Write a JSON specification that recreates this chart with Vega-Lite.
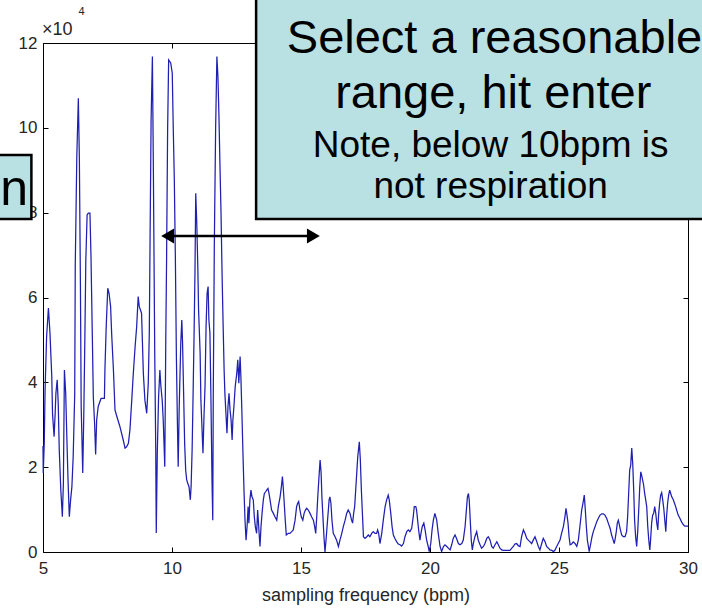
{
  "$schema": "https://vega.github.io/schema/vega-lite/v6.json",
  "autosize": {"type": "none"},
  "padding": {"left": 43, "top": 43, "right": 14, "bottom": 59},
  "width": 645,
  "height": 509,
  "background": "white",
  "config": {
    "font": "Liberation Sans",
    "view": {"stroke": "#000000", "strokeWidth": 1},
    "axis": {
      "grid": false,
      "domain": false,
      "tickColor": "#000000",
      "tickSize": -5,
      "tickWidth": 1,
      "labelFlush": false,
      "labelFontSize": 17,
      "labelColor": "#262626",
      "labelFont": "Liberation Sans",
      "titleFont": "Liberation Sans",
      "titleFontSize": 18,
      "titleFontWeight": "normal",
      "titleColor": "#262626"
    }
  },
  "datasets": {
    "spectrum": [
      {"f":5.00,"p":25000},{"f":5.01,"p":18600},{"f":5.05,"p":26000},{"f":5.08,"p":38200},{"f":5.14,"p":50800},{"f":5.21,"p":57500},{"f":5.27,"p":51600},{"f":5.34,"p":41400},{"f":5.37,"p":32500},{"f":5.43,"p":27200},{"f":5.47,"p":32500},{"f":5.50,"p":37400},{"f":5.55,"p":40600},{"f":5.59,"p":35100},{"f":5.63,"p":24100},{"f":5.69,"p":14600},{"f":5.75,"p":8300},{"f":5.79,"p":16200},{"f":5.83,"p":42900},{"f":5.88,"p":37400},{"f":5.92,"p":28000},{"f":5.97,"p":17000},{"f":6.02,"p":8300},{"f":6.07,"p":12300},{"f":6.12,"p":15400},{"f":6.17,"p":22500},{"f":6.23,"p":37400},{"f":6.25,"p":67300},{"f":6.31,"p":93200},{"f":6.37,"p":107000},{"f":6.41,"p":92500},{"f":6.45,"p":63400},{"f":6.48,"p":34300},{"f":6.54,"p":18600},{"f":6.58,"p":32000},{"f":6.62,"p":49200},{"f":6.66,"p":68900},{"f":6.71,"p":79500},{"f":6.76,"p":79900},{"f":6.82,"p":79900},{"f":6.86,"p":69700},{"f":6.91,"p":51600},{"f":6.95,"p":36600},{"f":7.00,"p":30300},{"f":7.04,"p":23000},{"f":7.08,"p":31100},{"f":7.14,"p":34300},{"f":7.25,"p":36200},{"f":7.38,"p":36200},{"f":7.40,"p":42900},{"f":7.45,"p":53100},{"f":7.51,"p":62200},{"f":7.56,"p":61000},{"f":7.62,"p":57900},{"f":7.66,"p":51600},{"f":7.73,"p":42900},{"f":7.79,"p":33500},{"f":7.86,"p":32000},{"f":7.98,"p":29600},{"f":8.11,"p":26400},{"f":8.18,"p":24500},{"f":8.24,"p":24800},{"f":8.31,"p":25600},{"f":8.37,"p":28800},{"f":8.44,"p":35800},{"f":8.50,"p":42100},{"f":8.57,"p":48400},{"f":8.63,"p":53100},{"f":8.69,"p":60200},{"f":8.73,"p":57900},
      {"f":8.82,"p":56300},{"f":8.89,"p":42100},{"f":8.95,"p":35800},{"f":9.02,"p":32700},{"f":9.08,"p":39800},{"f":9.12,"p":51600},{"f":9.15,"p":73600},{"f":9.19,"p":101900},{"f":9.24,"p":116800},{"f":9.28,"p":88500},{"f":9.33,"p":47600},{"f":9.37,"p":24100},{"f":9.39,"p":4500},{"f":9.43,"p":23300},{"f":9.48,"p":36600},{"f":9.53,"p":42900},{"f":9.57,"p":39000},{"f":9.62,"p":35800},{"f":9.66,"p":31100},{"f":9.72,"p":20100},{"f":9.76,"p":50800},{"f":9.79,"p":68900},{"f":9.83,"p":99500},{"f":9.87,"p":116000},{"f":9.95,"p":115300},{"f":10.01,"p":112900},{"f":10.05,"p":99500},{"f":10.09,"p":87700},{"f":10.13,"p":69700},{"f":10.17,"p":46100},{"f":10.21,"p":30300},{"f":10.24,"p":20100},{"f":10.28,"p":34300},{"f":10.34,"p":49200},{"f":10.38,"p":54700},{"f":10.41,"p":49200},{"f":10.45,"p":37400},{"f":10.49,"p":25600},{"f":10.53,"p":19300},{"f":10.57,"p":17000},{"f":10.61,"p":16200},{"f":10.66,"p":15400},{"f":10.71,"p":12300},{"f":10.74,"p":15400},{"f":10.78,"p":24100},{"f":10.81,"p":34300},{"f":10.85,"p":49200},{"f":10.89,"p":65700},{"f":10.92,"p":84600},{"f":10.96,"p":77500},{"f":11.00,"p":67300},{"f":11.03,"p":57100},{"f":11.09,"p":46900},{"f":11.12,"p":35800},{"f":11.16,"p":29600},{"f":11.20,"p":23300},{"f":11.24,"p":32000},{"f":11.28,"p":39000},{"f":11.32,"p":53100},{"f":11.36,"p":61000},{"f":11.40,"p":62600},{"f":11.43,"p":54700},{"f":11.47,"p":51600},{"f":11.51,"p":35800},{"f":11.55,"p":17000},{"f":11.58,"p":7500},{"f":11.60,"p":37400},{"f":11.64,"p":72000},{"f":11.69,"p":99500},{"f":11.74,"p":116800},{"f":11.78,"p":112100},{"f":11.82,"p":102700},{"f":11.86,"p":90900},{"f":11.90,"p":79900},{"f":11.94,"p":65700},{"f":11.98,"p":53900},{"f":12.02,"p":42900},{"f":12.05,"p":37400},{"f":12.09,"p":32700},{"f":12.13,"p":28000},{"f":12.17,"p":34300},{"f":12.21,"p":37400},{"f":12.25,"p":33500},{"f":12.29,"p":31100},{"f":12.33,"p":26400},{"f":12.36,"p":31100},{"f":12.40,"p":34300},{"f":12.45,"p":39000},{"f":12.51,"p":42100},{"f":12.55,"p":45300},{"f":12.59,"p":39800},
      {"f":12.64,"p":46100},{"f":12.67,"p":41300},{"f":12.71,"p":32700},{"f":12.75,"p":23300},{"f":12.79,"p":14600},{"f":12.83,"p":7500},{"f":12.87,"p":2800},{"f":12.91,"p":6000},{"f":12.95,"p":10700},{"f":12.98,"p":6800},{"f":13.02,"p":12300},{"f":13.06,"p":14600},{"f":13.10,"p":13000},{"f":13.15,"p":12300},{"f":13.19,"p":8300},{"f":13.23,"p":6000},{"f":13.28,"p":4400},{"f":13.32,"p":9900},{"f":13.36,"p":6000},{"f":13.41,"p":1300},{"f":13.45,"p":6000},{"f":13.49,"p":9100},{"f":13.54,"p":12300},{"f":13.58,"p":13800},{"f":13.63,"p":14200},{"f":13.67,"p":14600},{"f":13.72,"p":15000},{"f":13.76,"p":13800},{"f":13.80,"p":12300},{"f":13.86,"p":9900},{"f":13.93,"p":9100},{"f":13.99,"p":8300},{"f":14.06,"p":7500},{"f":14.12,"p":10700},{"f":14.19,"p":13000},{"f":14.24,"p":15400},{"f":14.28,"p":17800},{"f":14.31,"p":15400},{"f":14.35,"p":11500},{"f":14.39,"p":7500},{"f":14.43,"p":4000},{"f":14.51,"p":4400},{"f":14.57,"p":4400},{"f":14.64,"p":4800},{"f":14.70,"p":5200},{"f":14.77,"p":7500},{"f":14.83,"p":10700},{"f":14.87,"p":11500},{"f":14.91,"p":11900},{"f":14.96,"p":9900},{"f":15.01,"p":8300},{"f":15.07,"p":7500},{"f":15.12,"p":9100},{"f":15.17,"p":9900},{"f":15.22,"p":10300},{"f":15.28,"p":9900},{"f":15.35,"p":9100},{"f":15.41,"p":8300},{"f":15.48,"p":7500},{"f":15.53,"p":6000},{"f":15.57,"p":4400},{"f":15.61,"p":8300},{"f":15.65,"p":13000},{"f":15.69,"p":17000},{"f":15.74,"p":21700},{"f":15.78,"p":18600},{"f":15.81,"p":13000},{"f":15.85,"p":8300},{"f":15.89,"p":3600},{"f":15.93,"p":0},{"f":15.97,"p":2800},{"f":16.01,"p":6000},{"f":16.05,"p":9100},{"f":16.09,"p":12300},{"f":16.12,"p":13000},{"f":16.16,"p":11500},{"f":16.20,"p":7500},{"f":16.25,"p":4400},{"f":16.32,"p":3600},{"f":16.38,"p":2800},{"f":16.45,"p":1300},{"f":16.51,"p":2800},{"f":16.58,"p":4400},{"f":16.64,"p":6000},{"f":16.71,"p":7500},{"f":16.77,"p":9100},{"f":16.83,"p":9900},{"f":16.90,"p":9100},{"f":16.96,"p":7500},{"f":17.00,"p":6800},{"f":17.04,"p":9100},{"f":17.08,"p":10700},{"f":17.12,"p":14600},{"f":17.16,"p":18600},{"f":17.20,"p":22500},{"f":17.24,"p":24800},{"f":17.26,"p":26000},{"f":17.30,"p":21700},{"f":17.34,"p":14600},{"f":17.38,"p":9100},{"f":17.42,"p":3600},{"f":17.48,"p":3200},{"f":17.55,"p":3600},{"f":17.61,"p":4000},{"f":17.67,"p":3600},{"f":17.74,"p":4400},{"f":17.80,"p":4800},{"f":17.87,"p":4400},{"f":17.93,"p":4400},{"f":17.97,"p":5200},{"f":18.01,"p":4400},
      {"f":18.06,"p":2000},{"f":18.13,"p":4400},{"f":18.19,"p":7500},{"f":18.26,"p":10700},{"f":18.32,"p":12300},{"f":18.38,"p":13400},{"f":18.42,"p":12300},{"f":18.48,"p":9100},{"f":18.53,"p":6000},{"f":18.58,"p":4000},{"f":18.64,"p":3200},{"f":18.71,"p":2400},{"f":18.77,"p":1900},{"f":18.84,"p":1700},{"f":18.90,"p":1400},{"f":18.97,"p":2000},{"f":19.03,"p":3600},{"f":19.10,"p":4800},{"f":19.16,"p":5200},{"f":19.22,"p":4800},{"f":19.29,"p":5600},{"f":19.35,"p":8300},{"f":19.39,"p":10700},{"f":19.45,"p":10700},{"f":19.48,"p":9900},{"f":19.52,"p":7500},{"f":19.56,"p":5200},{"f":19.61,"p":2800},{"f":19.65,"p":4400},{"f":19.70,"p":6000},{"f":19.76,"p":6800},{"f":19.81,"p":5200},{"f":19.87,"p":2800},{"f":19.93,"p":1300},{"f":19.97,"p":100},{"f":20.03,"p":2000},{"f":20.08,"p":5200},{"f":20.13,"p":7500},{"f":20.19,"p":9100},{"f":20.26,"p":7500},{"f":20.32,"p":4400},{"f":20.39,"p":1300},{"f":20.45,"p":100},{"f":20.52,"p":1300},{"f":20.58,"p":1700},{"f":20.65,"p":1300},{"f":20.71,"p":900},{"f":20.78,"p":500},{"f":20.84,"p":1700},{"f":20.90,"p":3200},{"f":20.97,"p":4000},{"f":21.03,"p":3200},{"f":21.10,"p":2000},{"f":21.16,"p":1700},{"f":21.23,"p":2000},{"f":21.29,"p":2800},{"f":21.36,"p":6000},{"f":21.40,"p":9100},{"f":21.45,"p":13000},{"f":21.49,"p":13800},{"f":21.52,"p":12300},{"f":21.56,"p":7500},{"f":21.60,"p":2800},{"f":21.64,"p":500},{"f":21.68,"p":2000},{"f":21.74,"p":3600},{"f":21.81,"p":4800},{"f":21.87,"p":2800},{"f":21.94,"p":1700},{"f":22.00,"p":900},{"f":22.07,"p":1300},{"f":22.13,"p":2000},{"f":22.20,"p":3200},{"f":22.26,"p":3600},{"f":22.33,"p":2800},{"f":22.39,"p":1300},{"f":22.45,"p":900},{"f":22.52,"p":1700},{"f":22.59,"p":2400},{"f":22.65,"p":1700},{"f":22.71,"p":900},{"f":22.78,"p":500},{"f":22.84,"p":400},{"f":22.97,"p":400},{"f":23.10,"p":400},{"f":23.17,"p":900},{"f":23.23,"p":1300},{"f":23.29,"p":1900},{"f":23.36,"p":2000},{"f":23.42,"p":1500},
      {"f":23.49,"p":1300},{"f":23.55,"p":3600},{"f":23.62,"p":5200},{"f":23.68,"p":4400},{"f":23.75,"p":3200},{"f":23.81,"p":2800},{"f":23.88,"p":2400},{"f":23.94,"p":2000},{"f":24.00,"p":2800},{"f":24.07,"p":3600},{"f":24.14,"p":2400},{"f":24.20,"p":1300},{"f":24.26,"p":500},{"f":24.33,"p":2000},{"f":24.39,"p":3200},{"f":24.46,"p":2400},{"f":24.52,"p":1300},{"f":24.59,"p":900},{"f":24.65,"p":500},{"f":24.72,"p":400},{"f":24.78,"p":100},{"f":24.84,"p":400},{"f":24.91,"p":1300},{"f":24.97,"p":2000},{"f":25.04,"p":2800},{"f":25.10,"p":4400},{"f":25.17,"p":6000},{"f":25.23,"p":8300},{"f":25.27,"p":10300},{"f":25.31,"p":8700},{"f":25.35,"p":6800},{"f":25.39,"p":3600},{"f":25.43,"p":1700},{"f":25.49,"p":1900},{"f":25.55,"p":2400},{"f":25.62,"p":2000},{"f":25.69,"p":1300},{"f":25.75,"p":2800},{"f":25.81,"p":6000},{"f":25.88,"p":9900},{"f":25.94,"p":11900},{"f":25.98,"p":13400},{"f":26.02,"p":9900},{"f":26.06,"p":6000},{"f":26.10,"p":2800},{"f":26.14,"p":1300},{"f":26.17,"p":100},{"f":26.23,"p":2000},{"f":26.28,"p":3600},{"f":26.33,"p":4800},{"f":26.40,"p":6000},{"f":26.46,"p":7100},{"f":26.52,"p":7900},{"f":26.59,"p":8700},{"f":26.66,"p":9000},{"f":26.72,"p":9000},{"f":26.78,"p":8700},{"f":26.85,"p":7900},{"f":26.91,"p":6800},{"f":26.98,"p":5600},{"f":27.04,"p":4000},{"f":27.10,"p":2800},{"f":27.14,"p":2000},{"f":27.18,"p":3200},{"f":27.22,"p":4800},{"f":27.26,"p":6800},{"f":27.30,"p":7500},{"f":27.34,"p":6400},{"f":27.38,"p":5200},{"f":27.43,"p":4000},{"f":27.49,"p":3600},{"f":27.56,"p":3600},{"f":27.62,"p":4800},{"f":27.66,"p":8300},{"f":27.70,"p":13800},{"f":27.74,"p":19300},{"f":27.78,"p":20500},{"f":27.82,"p":24500},{"f":27.86,"p":20500},{"f":27.90,"p":13800},{"f":27.93,"p":7500},{"f":27.97,"p":3600},{"f":28.01,"p":1300},{"f":28.05,"p":4800},{"f":28.09,"p":9900},{"f":28.13,"p":15400},{"f":28.17,"p":18900},{"f":28.20,"p":18200},{"f":28.24,"p":17000},{"f":28.28,"p":15800},{"f":28.32,"p":13800},{"f":28.36,"p":12300},{"f":28.40,"p":10700},{"f":28.44,"p":6000},{"f":28.48,"p":2800},{"f":28.52,"p":500},{"f":28.55,"p":2800},{"f":28.59,"p":6800},{"f":28.63,"p":8700},{"f":28.67,"p":9100},{"f":28.71,"p":10700},{"f":28.75,"p":9100},{"f":28.79,"p":6800},{"f":28.83,"p":5200},{"f":28.86,"p":8700},{"f":28.90,"p":11500},{"f":28.94,"p":13400},{"f":28.98,"p":14000},{"f":29.02,"p":12300},{"f":29.06,"p":10300},{"f":29.10,"p":7500},{"f":29.14,"p":4800},{"f":29.17,"p":8300},{"f":29.21,"p":11500},{"f":29.25,"p":13400},{"f":29.29,"p":14600},{"f":29.33,"p":13800},{"f":29.37,"p":13000},{"f":29.43,"p":12300},{"f":29.50,"p":11100},{"f":29.56,"p":9900},{"f":29.62,"p":8700},{"f":29.69,"p":7900},{"f":29.75,"p":7100},{"f":29.82,"p":6400},{"f":29.88,"p":6100},{"f":30.00,"p":6100}
    ]
  },
  "layer": [
    {
      "data": {"name": "spectrum"},
      "mark": {"type": "line", "color": "#1f1fb2", "strokeWidth": 1.25},
      "encoding": {
        "x": {
          "field": "f", "type": "quantitative",
          "scale": {"domain": [5, 30], "nice": false, "zero": false},
          "axis": {"values": [5, 10, 15, 20, 25, 30], "labelPadding": 13, "title": "sampling frequency (bpm)", "titlePadding": 10}
        },
        "y": {
          "field": "p", "type": "quantitative",
          "scale": {"domain": [0, 120000], "nice": false},
          "axis": {"values": [0, 20000, 40000, 60000, 80000, 100000, 120000], "labelExpr": "datum.value / 10000", "labelPadding": 11, "title": null}
        }
      }
    },
    {
      "data": {"name": "spectrum"},
      "mark": {"type": "line", "opacity": 0},
      "encoding": {
        "x": {
          "field": "f", "type": "quantitative",
          "scale": {"domain": [5, 30], "nice": false, "zero": false},
          "axis": {"orient": "top", "values": [5, 10, 15, 20, 25, 30], "labels": false, "title": null}
        },
        "y": {
          "field": "p", "type": "quantitative",
          "scale": {"domain": [0, 120000], "nice": false},
          "axis": {"orient": "right", "values": [0, 20000, 40000, 60000, 80000, 100000, 120000], "labels": false, "title": null}
        }
      }
    },
    {
      "data": {"values": [
        {"f": 13.26, "f2": 31.5, "p": 140000, "p2": 78500},
        {"f": 3.0, "f2": 4.55, "p": 93600, "p2": 78500}
      ]},
      "mark": {"type": "rect", "fill": "#b9e0e3", "stroke": "#000000", "strokeWidth": 2.5, "clip": false},
      "encoding": {
        "x": {"field": "f", "type": "quantitative", "axis": null},
        "x2": {"field": "f2"},
        "y": {"field": "p", "type": "quantitative", "axis": null},
        "y2": {"field": "p2"}
      }
    },
    {
      "data": {"values": [
        {"f": 22.5, "p": 117700, "t": "Select a reasonable"},
        {"f": 22.45, "p": 104700, "t": "range, hit enter"}
      ]},
      "mark": {"type": "text", "fontSize": 47, "font": "Liberation Sans", "align": "center", "baseline": "alphabetic", "color": "#000000"},
      "encoding": {
        "x": {"field": "f", "type": "quantitative", "axis": null},
        "y": {"field": "p", "type": "quantitative", "axis": null},
        "text": {"field": "t"}
      }
    },
    {
      "data": {"values": [
        {"f": 22.35, "p": 93200, "t": "Note, below 10bpm is"},
        {"f": 22.35, "p": 83500, "t": "not respiration"}
      ]},
      "mark": {"type": "text", "fontSize": 37, "font": "Liberation Sans", "align": "center", "baseline": "alphabetic", "color": "#000000"},
      "encoding": {
        "x": {"field": "f", "type": "quantitative", "axis": null},
        "y": {"field": "p", "type": "quantitative", "axis": null},
        "text": {"field": "t"}
      }
    },
    {
      "data": {"values": [{"f": 3.34, "p": 81800, "t": "n"}]},
      "mark": {"type": "text", "fontSize": 50, "font": "Liberation Sans", "align": "left", "baseline": "alphabetic", "color": "#000000"},
      "encoding": {
        "x": {"field": "f", "type": "quantitative", "axis": null},
        "y": {"field": "p", "type": "quantitative", "axis": null},
        "text": {"field": "t"}
      }
    },
    {
      "data": {"values": [{"f": 4.96, "p": 121900, "t": "×10"}]},
      "mark": {"type": "text", "fontSize": 18, "font": "Liberation Sans", "align": "left", "baseline": "alphabetic", "color": "#262626"},
      "encoding": {
        "x": {"field": "f", "type": "quantitative", "axis": null},
        "y": {"field": "p", "type": "quantitative", "axis": null},
        "text": {"field": "t"}
      }
    },
    {
      "data": {"values": [{"f": 6.38, "p": 126600, "t": "4"}]},
      "mark": {"type": "text", "fontSize": 11, "font": "Liberation Sans", "align": "left", "baseline": "alphabetic", "color": "#262626"},
      "encoding": {
        "x": {"field": "f", "type": "quantitative", "axis": null},
        "y": {"field": "p", "type": "quantitative", "axis": null},
        "text": {"field": "t"}
      }
    },
    {
      "data": {"values": [{"f": 9.9, "f2": 15.4, "p": 74500}]},
      "mark": {"type": "rule", "color": "#000000", "strokeWidth": 2.5},
      "encoding": {
        "x": {"field": "f", "type": "quantitative", "axis": null},
        "x2": {"field": "f2"},
        "y": {"field": "p", "type": "quantitative", "axis": null}
      }
    },
    {
      "data": {"values": [
        {"f": 9.83, "p": 74500, "dir": "left"},
        {"f": 15.48, "p": 74500, "dir": "right"}
      ]},
      "mark": {"type": "point", "filled": true, "color": "#000000", "size": 220, "opacity": 1},
      "encoding": {
        "x": {"field": "f", "type": "quantitative", "axis": null},
        "y": {"field": "p", "type": "quantitative", "axis": null},
        "shape": {"field": "dir", "type": "nominal", "scale": {"domain": ["left", "right"], "range": ["triangle-left", "triangle-right"]}, "legend": null}
      }
    }
  ],
  "resolve": {"axis": {"x": "independent", "y": "independent"}}
}
